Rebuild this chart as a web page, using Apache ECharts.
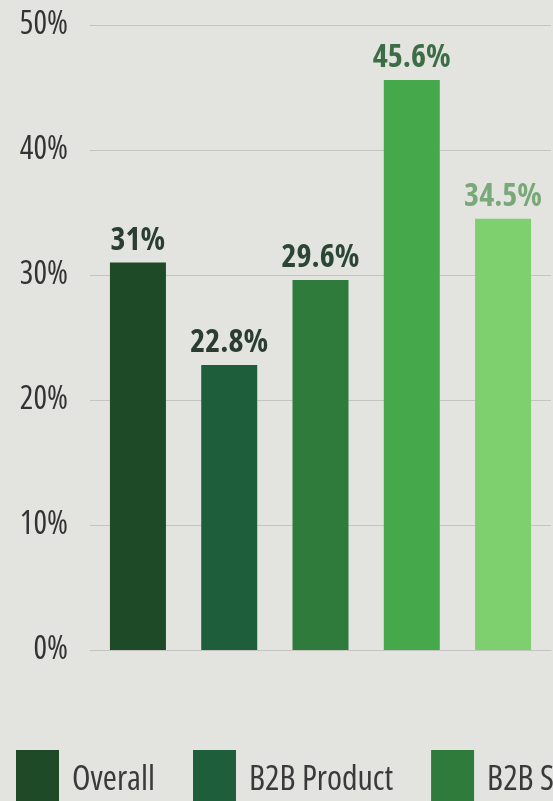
<!DOCTYPE html>
<html>
<head>
<meta charset="utf-8">
<script src="https://cdn.jsdelivr.net/npm/echarts@6/dist/echarts.min.js"></script>
<style>
html,body{margin:0;padding:0;overflow:hidden;background:#e3e4e0;width:553px;height:801px;}
#c{width:1000px;height:801px;}
</style>
</head>
<body>
<div id="c"></div>
<script>
const seriesNames = ['Overall', 'B2B Product', 'B2B Services', 'B2C Product', 'B2C Services'];
const seriesValues = [31, 22.8, 29.6, 45.6, 34.5];
const barColors = ['#1f4a27', '#1f5e3b', '#2e7b3b', '#45a84b', '#7ecf6d'];
const labelColors = ['#2b3d30', '#2b3d30', '#2c4634', '#3c6d45', '#79a879'];
const yTicks = [0, 10, 20, 30, 40, 50];

const FONT = '"Open Sans", "Noto Sans", sans-serif';
const chart = echarts.init(document.getElementById('c'));
chart.setOption({
  backgroundColor: '#e3e4e0',
  animation: false,
  grid: { left: 90, right: 1000 - 551, top: 25, bottom: 801 - 650 },
  legend: {
    left: 16, top: 750, padding: 0,
    itemWidth: 43, itemHeight: 60, itemGap: 38,
    icon: 'rect',
    textStyle: { fontFamily: FONT, fontWeight: 'normal condensed', fontSize: 34, color: '#3a3a3a', padding: [0, 0, 0, 8] },
    data: seriesNames
  },
  xAxis: {
    type: 'category', data: [''],
    axisLine: { show: true, lineStyle: { color: '#c4c5c1', width: 1 } },
    axisTick: { show: false }, axisLabel: { show: false }
  },
  yAxis: {
    type: 'value', min: yTicks[0], max: yTicks[yTicks.length - 1], interval: 10,
    axisLine: { show: false }, axisTick: { show: false },
    splitLine: { lineStyle: { color: '#c4c5c1', width: 1 } },
    axisLabel: { formatter: '{value}%', fontFamily: FONT, fontWeight: 'normal condensed', fontSize: 32, color: '#333', margin: 22 }
  },
  series: seriesNames.map((n, i) => ({
    name: n, type: 'bar', data: [seriesValues[i]],
    barWidth: 56, barGap: '63%',
    itemStyle: { color: barColors[i] },
    label: {
      show: true, position: 'top', distance: 6,
      formatter: '{c}%', fontFamily: FONT, fontSize: 32, fontWeight: 'bold condensed', color: labelColors[i]
    }
  }))
});
</script>
</body>
</html>
